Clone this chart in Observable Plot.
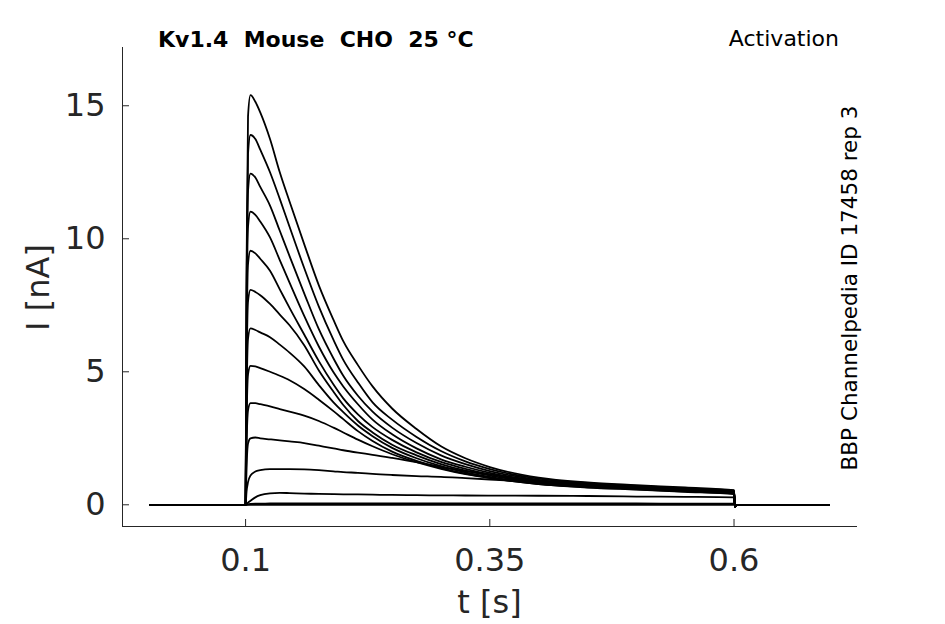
<!DOCTYPE html>
<html><head><meta charset="utf-8">
<script src="https://cdn.jsdelivr.net/npm/d3@7"></script>
<script src="https://cdn.jsdelivr.net/npm/@observablehq/plot@0.6"></script>
<style>body{margin:0;background:#fff;}</style>
</head><body><div id="chart"></div>
<script>
// time grid (s)
const times = [0.002, 0.1, 0.101, 0.1025, 0.105, 0.11, 0.115, 0.125, 0.135, 0.145, 0.16, 0.175, 0.19, 0.2, 0.215, 0.23, 0.25, 0.275, 0.3, 0.325, 0.35, 0.4, 0.45, 0.5, 0.55, 0.6, 0.601, 0.603, 0.697];
// currents (nA), one array per voltage step
const trace1  = [0,0,9.0,14.6,15.4,15.15,14.75,13.75,12.5,11.4,9.8,8.25,6.95,6.15,5.25,4.45,3.62,2.85,2.2,1.75,1.42,1.02,0.84,0.74,0.65,0.55,-0.08,0,0];
const trace2  = [0,0,8.1,13.2,13.9,13.75,13.35,12.5,11.5,10.45,8.9,7.45,6.2,5.45,4.6,3.85,3.2,2.55,2.02,1.63,1.34,0.98,0.81,0.71,0.62,0.53,-0.08,0,0];
const trace3  = [0,0,7.2,11.8,12.45,12.3,11.95,11.25,10.3,9.35,7.95,6.6,5.5,4.85,4.1,3.5,2.9,2.32,1.86,1.53,1.27,0.94,0.78,0.68,0.6,0.51,-0.08,0,0];
const trace4  = [0,0,6.4,10.45,11.02,10.9,10.65,10.05,9.2,8.35,7.1,5.95,4.98,4.45,3.78,3.2,2.65,2.12,1.71,1.43,1.2,0.9,0.75,0.66,0.58,0.49,-0.08,0,0];
const trace5  = [0,0,5.5,9.05,9.55,9.45,9.25,8.8,8.1,7.4,6.4,5.4,4.52,4.0,3.4,2.92,2.44,1.97,1.61,1.35,1.14,0.86,0.72,0.63,0.55,0.47,-0.08,0,0];
const trace6  = [0,0,4.7,7.65,8.08,8.0,7.88,7.55,7.15,6.75,6.0,5.05,4.25,3.75,3.15,2.72,2.26,1.86,1.53,1.28,1.1,0.83,0.7,0.61,0.53,0.45,-0.08,0,0];
const trace7  = [0,0,3.8,6.25,6.63,6.57,6.48,6.3,6.02,5.72,5.2,4.5,3.85,3.48,2.98,2.58,2.14,1.75,1.45,1.22,1.05,0.8,0.68,0.6,0.52,0.44,-0.08,0,0];
const trace8  = [0,0,3.0,4.9,5.22,5.2,5.14,5.0,4.85,4.68,4.35,3.95,3.52,3.22,2.77,2.4,2.0,1.65,1.38,1.17,1.01,0.78,0.66,0.58,0.5,0.42,-0.08,0,0];
const trace9  = [0,0,2.2,3.55,3.82,3.82,3.78,3.7,3.6,3.5,3.35,3.15,2.9,2.72,2.45,2.2,1.9,1.6,1.35,1.15,1.0,0.78,0.65,0.57,0.49,0.4,-0.08,0,0];
const trace10 = [0,0,1.4,2.3,2.5,2.53,2.5,2.46,2.42,2.38,2.32,2.22,2.12,2.05,1.96,1.88,1.76,1.6,1.42,1.27,1.14,0.92,0.76,0.64,0.54,0.46,-0.06,0,0];
const trace11 = [0,0,0.5,0.85,1.1,1.25,1.3,1.34,1.34,1.34,1.33,1.3,1.26,1.23,1.2,1.16,1.12,1.08,1.05,1.0,0.95,0.84,0.73,0.64,0.56,0.5,-0.05,0,0];
const trace12 = [0,0,0.03,0.08,0.15,0.28,0.36,0.43,0.45,0.44,0.42,0.41,0.4,0.395,0.39,0.38,0.37,0.36,0.355,0.35,0.345,0.34,0.33,0.31,0.3,0.28,-0.03,0,0];
const trace13 = [0,0,0.01,0.02,0.03,0.04,0.04,0.05,0.05,0.05,0.05,0.05,0.05,0.05,0.05,0.05,0.05,0.05,0.05,0.05,0.05,0.05,0.05,0.05,0.04,0.04,-0.02,0,0];
const trace14 = [0,0,0,0,0,0,0,0,0,0,0,0,0,0,0,0,0,0,0,0,0,0,0,0,0,0,0,0,0];
const traces = [trace1,trace2,trace3,trace4,trace5,trace6,trace7,trace8,trace9,trace10,trace11,trace12,trace13,trace14];

const xTicks = [0.1, 0.35, 0.6];
const yTicks = [0, 5, 10, 15];
const xDomain = [-0.026, 0.7264];
const yDomain = [-0.816, 17.19];

const rows = traces.flatMap((vals, k) => vals.map((v, i) => ({trace: k, t: times[i], I: v})));

const plot = Plot.plot({
  width: 945, height: 624,
  marginLeft: 122, marginRight: 88, marginTop: 47, marginBottom: 98,
  style: {fontFamily: "DejaVu Sans", color: "#262626", background: "#fff"},
  x: {domain: xDomain},
  y: {domain: yDomain},
  marks: [
    Plot.ruleY([yDomain[0]], {stroke: "#262626", strokeWidth: 1}),
    Plot.ruleX([xDomain[0]], {stroke: "#262626", strokeWidth: 1}),
    Plot.axisX({ticks: xTicks, tickSize: -7, tickFormat: () => "", label: null}),
    Plot.axisX({ticks: xTicks, tickSize: 0, tickPadding: 22, fontSize: 32, tickFormat: d => String(d), label: null}),
    Plot.axisY({ticks: yTicks, tickSize: -7, tickFormat: () => "", label: null}),
    Plot.axisY({ticks: yTicks, tickSize: 0, tickPadding: 17, fontSize: 32, tickFormat: d => String(d), label: null}),
    Plot.line(rows, {x: "t", y: "I", z: "trace", curve: "monotone-x", stroke: "#000", strokeWidth: 1.8})
  ]
});

const svg = d3.select(plot);
svg.append("text").attr("x", 158).attr("y", 46.5).attr("text-anchor", "start")
  .attr("font-weight", "bold").attr("font-size", 22).attr("fill", "#000")
  .text("Kv1.4\u00A0\u00A0Mouse\u00A0\u00A0CHO\u00A0\u00A025\u00A0°C");
svg.append("text").attr("x", 839).attr("y", 46).attr("text-anchor", "end")
  .attr("font-size", 22).attr("fill", "#000").text("Activation");
svg.append("text").attr("transform", "translate(856.5,288) rotate(-90)").attr("text-anchor", "middle")
  .attr("font-size", 21.5).attr("fill", "#000").text("BBP Channelpedia ID 17458 rep 3");
svg.append("text").attr("x", 489.5).attr("y", 613).attr("text-anchor", "middle")
  .attr("font-size", 32).attr("fill", "#262626").text("t [s]");
svg.append("text").attr("transform", "translate(49,287.5) rotate(-90)").attr("text-anchor", "middle")
  .attr("font-size", 32).attr("fill", "#262626").text("I [nA]");

document.getElementById("chart").appendChild(plot);
</script>
</body></html>
